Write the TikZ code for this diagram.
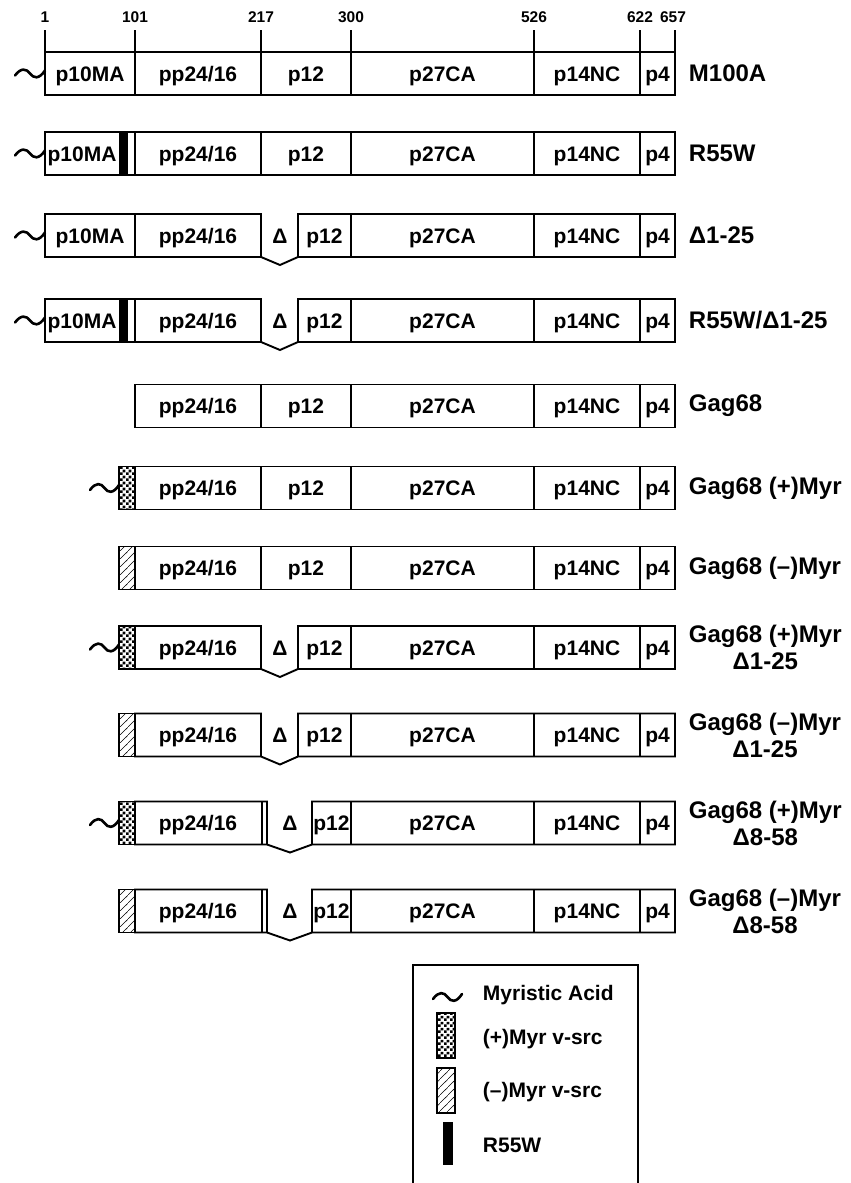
\documentclass[tikz,border=0pt]{standalone}
\usepackage{fontspec}
\setmainfont{Liberation Sans}
\usetikzlibrary{patterns.meta}
\tikzdeclarepattern{name=mychecks, type=uncolored, bottom left={(0pt,0pt)}, top right={(6pt,6pt)}, tile size={(6pt,6pt)},
  code={\fill (0pt,0pt) rectangle (3pt,3pt); \fill (3pt,3pt) rectangle (6pt,6pt);}}
\tikzdeclarepattern{name=myhatch, type=uncolored, bottom left={(0pt,0pt)}, top right={(8pt,8pt)}, tile size={(8pt,8pt)},
  code={\draw[line width=0.6pt] (-1pt,-1pt) -- (9pt,9pt);}}
% wave: x0, x1, y
\newcommand\wave[3]{\draw[wavy] ({#1},{#3+2}) .. controls ({#1+0.2*(#2-#1)},{#3-6}) and ({#1+0.38*(#2-#1)},{#3-5}) .. ({(#1+#2)/2},{#3}) .. controls ({#1+0.62*(#2-#1)},{#3+5}) and ({#1+0.8*(#2-#1)},{#3+6}) .. ({#2},{#3-3});}
\newcommand\rightpart[1]{%
  \draw (534,-21.5) -- (534,21.5) (640,-21.5) -- (640,21.5);
  \node[bt] (#1ca) at (442.5,7.5) {p27CA};
  \node[bt] (#1nc) at (587,7.5) {p14NC};
  \node[bt] (#1pf) at (657.5,7.5) {p4};}
% full row starting at x0 (#2)
\newcommand\fullrow[2]{%
  \draw (#2,-21.5) rectangle (675,21.5);
  \draw (261,-21.5) -- (261,21.5) (351,-21.5) -- (351,21.5);
  \node[bt] (#1pp) at (198,7.5) {pp24/16};
  \node[bt] (#1pt) at (306,7.5) {p12};
  \rightpart{#1}}
% deletion 1-25 starting at x0 (#2)
\newcommand\delrow[2]{%
  \draw (261,21.5) -- (261,-21.5) -- (#2,-21.5) -- (#2,21.5) -- (261,21.5) -- (280,29.5) -- (298,21.5) -- (675,21.5) -- (675,-21.5) -- (298,-21.5) -- (298,21.5);
  \draw (351,-21.5) -- (351,21.5);
  \node[bt] (#1pp) at (198,7.5) {pp24/16};
  \node[bt] (#1de) at (280,7.5) {Δ};
  \node[bt] (#1pt) at (324.5,7.5) {p12};
  \rightpart{#1}}
% deletion 8-58 starting at 135
\newcommand\delrowb[1]{%
  \draw (267,21.5) -- (267,-21.5) -- (135,-21.5) -- (135,21.5) -- (267,21.5) -- (290,29.5) -- (312,21.5) -- (675,21.5) -- (675,-21.5) -- (312,-21.5) -- (312,21.5);
  \draw[line width=1.4pt] (262,-21.5) -- (262,21.5);
  \draw (351,-21.5) -- (351,21.5);
  \node[bt] (#1pp) at (198,7.5) {pp24/16};
  \node[bt] (#1de) at (290,7.5) {Δ};
  \node[bt] (#1pt) at (331.5,7.5) {p12};
  \rightpart{#1}}
\begin{document}
\begin{tikzpicture}[x=1pt,y=-1pt, line width=1.9pt, line join=miter,
  bt/.style={font=\fontsize{21}{25}\selectfont\bfseries, anchor=base, inner sep=0},
  lab/.style={font=\fontsize{24}{27}\selectfont\bfseries, anchor=west, inner sep=0, align=center},
  num/.style={font=\fontsize{15.5}{18}\selectfont\bfseries, anchor=base, inner sep=0},
  lg/.style={font=\fontsize{21}{25}\selectfont\bfseries, anchor=west, inner sep=0},
  wavy/.style={line width=2.6pt, line cap=round},
  checks/.style={pattern=mychecks, pattern color=black},
  hatch/.style={pattern=myhatch, pattern color=black}]
\useasboundingbox (0,0) rectangle (851,1183);

% scale
\foreach \n/\x in {1/45,101/135,217/261,300/351,526/534,622/640,657/675}{
  \draw[line width=1.4pt] (\x,30) -- (\x,52);}
\foreach \n/\x in {1/45,101/135,217/261,300/351,526/534,622/640,657/673}{
  \node[num] (n\n) at (\x,22.5) {\n};}

% row 1: M100A
\begin{scope}[shift={(0,73.5)}]
  \wave{15}{45}{0}
  \draw (135,-21.5) -- (135,21.5);
  \node[bt] (aMA) at (90,7.5) {p10MA};
  \fullrow{a}{45}
  \node[lab] (la) at (688,0) {M100A};
\end{scope}
% row 2: R55W
\begin{scope}[shift={(0,153.5)}]
  \wave{15}{45}{0}
  \fill (119,-21.5) rectangle (128,21.5);
  \draw (135,-21.5) -- (135,21.5);
  \node[bt] (bMA) at (82,7.5) {p10MA};
  \fullrow{b}{45}
  \node[lab] (lb) at (688,0) {R55W};
\end{scope}
% row 3: D1-25
\begin{scope}[shift={(0,235.5)}]
  \wave{15}{45}{0}
  \draw (135,-21.5) -- (135,21.5);
  \node[bt] (cMA) at (90,7.5) {p10MA};
  \delrow{c}{45}
  \node[lab] (lc) at (688,0) {Δ1-25};
\end{scope}
% row 4: R55W/D1-25
\begin{scope}[shift={(0,320.5)}]
  \wave{15}{45}{0}
  \fill (119,-21.5) rectangle (128,21.5);
  \draw (135,-21.5) -- (135,21.5);
  \node[bt] (dMA) at (82,7.5) {p10MA};
  \delrow{d}{45}
  \node[lab] (ld) at (688,0) {R55W/Δ1-25};
\end{scope}
% row 5: Gag68
\begin{scope}[shift={(0,406)}]
  \fullrow{e}{135}
  \node[lab] (le) at (688,0) {Gag68};
\end{scope}
% row 6
\begin{scope}[shift={(0,488)}]
  \wave{90}{119}{0}
  \draw[checks] (119,-21.5) rectangle (135,21.5);
  \fullrow{f}{135}
  \node[lab] (lf) at (688,0) {Gag68 (+)Myr};
\end{scope}
% row 7
\begin{scope}[shift={(0,568)}]
  \draw[hatch] (119,-21.5) rectangle (135,21.5);
  \fullrow{g}{135}
  \node[lab] (lg) at (688,0) {Gag68 (–)Myr};
\end{scope}
% row 8
\begin{scope}[shift={(0,647.5)}]
  \wave{90}{119}{0}
  \draw[checks] (119,-21.5) rectangle (135,21.5);
  \delrow{h}{135}
  \node[lab] (lh) at (688,0) {Gag68 (+)Myr\\Δ1-25};
\end{scope}
% row 9
\begin{scope}[shift={(0,735)}]
  \draw[hatch] (119,-21.5) rectangle (135,21.5);
  \delrow{i}{135}
  \node[lab] (li) at (688,0) {Gag68 (–)Myr\\Δ1-25};
\end{scope}
% row 10
\begin{scope}[shift={(0,823)}]
  \wave{90}{119}{0}
  \draw[checks] (119,-21.5) rectangle (135,21.5);
  \delrowb{j}
  \node[lab] (lj) at (688,0) {Gag68 (+)Myr\\Δ8-58};
\end{scope}
% row 11
\begin{scope}[shift={(0,911)}]
  \draw[hatch] (119,-21.5) rectangle (135,21.5);
  \delrowb{k}
  \node[lab] (lk) at (688,0) {Gag68 (–)Myr\\Δ8-58};
\end{scope}

% legend
\draw[line width=1.3pt] (413,1183) -- (413,965) -- (638,965) -- (638,1183);
\wave{433}{462}{997}
\node[lg] (lgA) at (482,995) {Myristic Acid};
\draw[checks, line width=1.4pt] (437,1013) rectangle (455,1058);
\node[lg] (lgB) at (482,1039) {(+)Myr v-src};
\draw[hatch, line width=1.4pt] (437,1068) rectangle (455,1113);
\node[lg] (lgC) at (482,1092) {(–)Myr v-src};
\fill (443,1122) rectangle (453,1165);
\node[lg] (lgD) at (482,1145) {R55W};
\end{tikzpicture}
\end{document}
